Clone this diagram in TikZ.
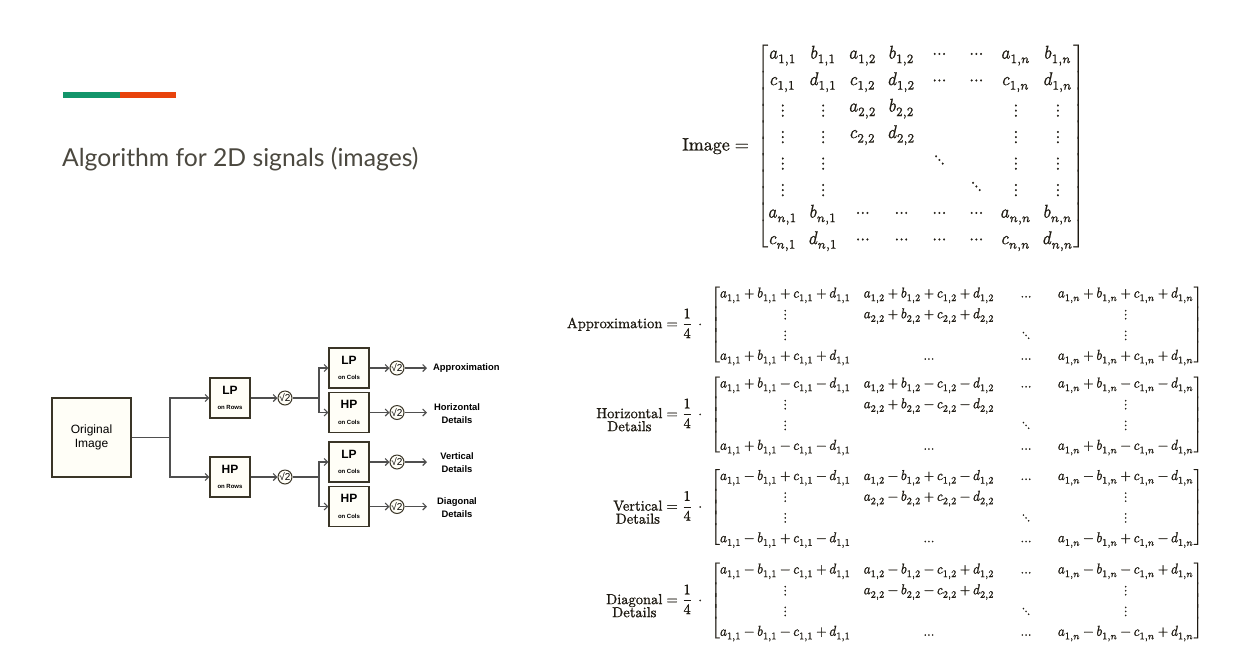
\documentclass[tikz,border=0pt]{standalone}
\usepackage{amsmath}
\usepackage{graphicx}
\usepackage{fontspec}
\usepackage{unicode-math}
\usetikzlibrary{arrows.meta}

\setmainfont{Latin Modern Roman}[FakeBold=0.9]
\setmathfont{Latin Modern Math}[FakeBold=0.9]
\newfontfamily\titlefont{Lato}
\newfontfamily\diagfont{Liberation Sans}

\definecolor{barGreen}{HTML}{12956A}
\definecolor{barRed}{HTML}{E8430C}
\definecolor{titleGray}{HTML}{4B483F}
\definecolor{boxLine}{HTML}{3A3527}
\definecolor{wireGray}{HTML}{4F4F4F}
\definecolor{boxFill}{HTML}{FFFEF7}
\definecolor{eqInk}{HTML}{1E1A12}

\newcommand{\filt}[2]{{\fontsize{12}{13}\selectfont #1}\\[8.6pt]{\fontsize{6}{7}\selectfont #2}}
\newcommand{\vd}{\raisebox{-2pt}{$\smash{\vdots}$}}
\newcommand{\dd}{\smash{\ddots}}
\newcommand{\cd}{\hbox to 15pt{\hss$\cdots$\hss}}

\newcommand{\imgmat}{%
\begin{bmatrix}
a_{1,1} & b_{1,1} & a_{1,2} & b_{1,2} & \cd & \cd & a_{1,n} & b_{1,n}\\
c_{1,1} & d_{1,1} & c_{1,2} & d_{1,2} & \cdots & \cdots & c_{1,n} & d_{1,n}\\
\vd & \vd & a_{2,2} & b_{2,2} & & & \vd & \vd\\
\vd & \vd & c_{2,2} & d_{2,2} & & & \vd & \vd\\
\vd & \vd & & & \dd & & \vd & \vd\\
\vd & \vd & & & & \dd & \vd & \vd\\
a_{n,1} & b_{n,1} & \cdots & \cdots & \cdots & \cdots & a_{n,n} & b_{n,n}\\
c_{n,1} & d_{n,1} & \cdots & \cdots & \cdots & \cdots & c_{n,n} & d_{n,n}
\end{bmatrix}}

% #1 #2 #3 : signs in front of b, c and d
\newcommand{\bandmat}[3]{%
\begin{bmatrix}
a_{1,1}#1b_{1,1}#2c_{1,1}#3d_{1,1} & a_{1,2}#1b_{1,2}#2c_{1,2}#3d_{1,2} & \quad\ldots\quad & a_{1,n}#1b_{1,n}#2c_{1,n}#3d_{1,n}\\
\vdots & a_{2,2}#1b_{2,2}#2c_{2,2}#3d_{2,2} & & \vdots\\
\vdots & & \ddots & \vdots\\
a_{1,1}#1b_{1,1}#2c_{1,1}#3d_{1,1} & \ldots & \ldots & a_{1,n}#1b_{1,n}#2c_{1,n}#3d_{1,n}
\end{bmatrix}}

\newcommand{\bandfit}[1]{\resizebox*{491pt}{83pt}{$\renewcommand{\arraystretch}{1.2}#1$}}
\newcommand{\bandlbl}[1]{\scalebox{1.45}{$#1=\dfrac{1}{4}\mkern7mu\cdot\mkern7mu$}}
\newcommand{\twolines}[1]{\begin{tabular}[t]{@{}c@{}}#1\end{tabular}}

\begin{document}
\begin{tikzpicture}[x=1pt, y=-1pt,
  filt/.style={draw=boxLine, line width=1.2pt, fill=boxFill, minimum width=40pt,
    minimum height=40pt, inner sep=0pt, align=center,
    font=\diagfont\bfseries\fontsize{6}{7}\selectfont},
  srcbox/.style={filt, minimum width=79pt, minimum height=79pt,
    font=\diagfont\fontsize{12}{14}\selectfont},
  down/.style={draw=boxLine, line width=1pt, circle, fill=boxFill, minimum size=14pt,
    inner sep=0pt, font=\diagfont\fontsize{10}{10}\selectfont},
  wire/.style={draw=wireGray, line width=1.1pt},
  feed/.style={wire, -{Straight Barb[length=3.5pt,width=7pt]}},
  outlbl/.style={inner sep=0pt, align=center, text=black,
    font=\diagfont\bfseries\fontsize{9.4}{13}\selectfont},
  eqmat/.style={inner sep=0pt, anchor=west, text=eqInk},
  eqlbl/.style={inner sep=0pt, anchor=base east, text=eqInk}]

\useasboundingbox (0,0) rectangle (1239,665);

% header
\fill[barGreen] (63,92) rectangle (120,98);
\fill[barRed] (120,92) rectangle (176,98);
\node[anchor=base west, inner sep=0pt, text=titleGray] (title) at (62,166)
  {\titlefont\fontsize{24.7}{29}\selectfont Algorithm for 2D signals (images)};

% filter bank
\node[srcbox] (orig) at (91.5,437.5) {Original\\Image};
\node[filt] (lprow) at (230,398) {\filt{LP}{on Rows}};
\node[filt] (hprow) at (230,477) {\filt{HP}{on Rows}};
\node[down] (dlo) at (285,398) {√2};
\node[down] (dhi) at (285,477) {√2};

\node[filt] (ll) at (349,368) {\filt{LP}{on Cols}};
\node[filt] (lh) at (349,412.5) {\filt{HP}{on Cols}};
\node[filt] (hl) at (349,462) {\filt{LP}{on Cols}};
\node[filt] (hh) at (349,506.5) {\filt{HP}{on Cols}};

\node[down] (dll) at (397,368) {√2};
\node[down] (dlh) at (397,412.5) {√2};
\node[down] (dhl) at (397,462) {√2};
\node[down] (dhh) at (397,506.5) {√2};

\coordinate (fork1) at (170,437.5);
\coordinate (fork2) at (319,398);
\coordinate (fork3) at (319,477);
\coordinate (endll) at (427,368);
\coordinate (endlh) at (427,412.5);
\coordinate (endhl) at (427,462);
\coordinate (endhh) at (427,506.5);

\node[outlbl, anchor=west] (approx) at (433,368) {Approximation};
\node[outlbl] (horiz) at (457,414) {Horizontal\\Details};
\node[outlbl] (vert) at (457,463) {Vertical\\Details};
\node[outlbl] (diag) at (457,507.5) {Diagonal\\Details};

\draw[wire] (orig.east) -- (fork1);
\draw[feed] (fork1) |- (lprow.west);
\draw[feed] (fork1) |- (hprow.west);
\draw[feed] (lprow) -- (dlo);
\draw[feed] (hprow) -- (dhi);
\draw[wire] (dlo) -- (fork2);
\draw[wire] (dhi) -- (fork3);
\draw[feed] (fork2) |- (ll.west);
\draw[feed] (fork2) |- (lh.west);
\draw[feed] (fork3) |- (hl.west);
\draw[feed] (fork3) |- (hh.west);
\draw[feed] (ll) -- (dll);
\draw[feed] (lh) -- (dlh);
\draw[feed] (hl) -- (dhl);
\draw[feed] (hh) -- (dhh);
\draw[feed] (dll) -- (endll);
\draw[feed] (dlh) -- (endlh);
\draw[feed] (dhl) -- (endhl);
\draw[feed] (dhh) -- (endhh);

% equations
\node[eqmat] (imgm) at (757,146)
  {\resizebox*{327pt}{212pt}{$\arraycolsep=3.5pt\renewcommand{\arraystretch}{1.2}\imgmat$}};
\node[eqlbl] (imgl) at ([xshift=-8pt,yshift=-4.5pt]imgm.west)
  {\scalebox{1.8}{$\text{Image}=$}};

\node[eqmat] (am) at (711,324.5) {\bandfit{\bandmat{+}{+}{+}}};
\node[eqmat] (hm) at (711,414.5) {\bandfit{\bandmat{+}{-}{-}}};
\node[eqmat] (vm) at (711,507) {\bandfit{\bandmat{-}{+}{-}}};
\node[eqmat] (dm) at (711,600.5) {\bandfit{\bandmat{-}{-}{+}}};

\node[eqlbl] (al) at ([xshift=-3pt,yshift=-3.6pt]am.west) {\bandlbl{\text{Approximation}}};
\node[eqlbl] (hl2) at ([xshift=-3pt,yshift=-3.6pt]hm.west) {\bandlbl{\twolines{Horizontal\\[-3pt]Details}}};
\node[eqlbl] (vl) at ([xshift=-3pt,yshift=-3.6pt]vm.west) {\bandlbl{\twolines{Vertical\\[-3pt]Details}}};
\node[eqlbl] (dl) at ([xshift=-3pt,yshift=-3.6pt]dm.west) {\bandlbl{\twolines{Diagonal\\[-3pt]Details}}};

\end{tikzpicture}
\end{document}
